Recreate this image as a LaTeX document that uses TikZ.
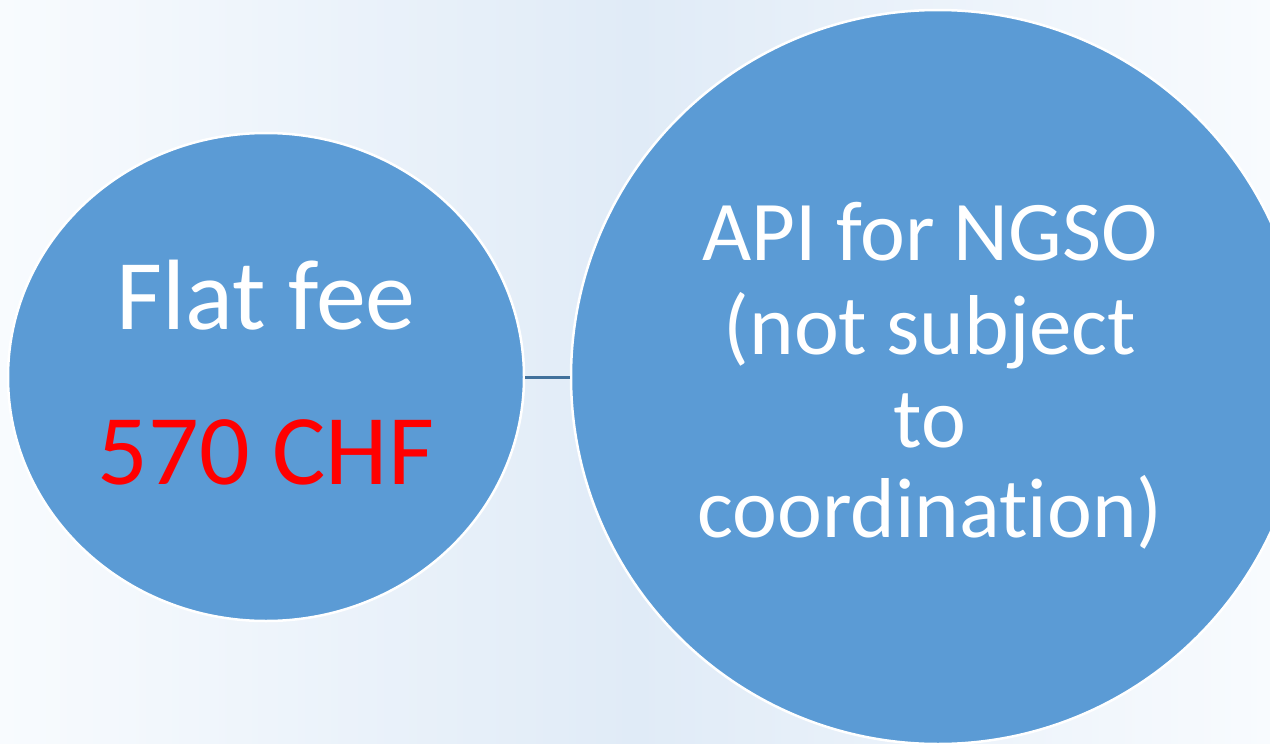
\documentclass[tikz,border=0pt]{standalone}
\usepackage{fontspec}
\setmainfont{Carlito}[Ligatures=NoCommon]
\usetikzlibrary{shapes.geometric}
\definecolor{bgpale}{HTML}{F8FBFE}
\definecolor{bgmid}{HTML}{E0EBF7}
\definecolor{bubblefill}{HTML}{5B9BD5}
\definecolor{linkblue}{HTML}{41719C}
\tikzset{
  bubble/.style={fill=bubblefill, draw=white, line width=2.5pt},
  link/.style={draw=linkblue, line width=3pt},
  feetext/.style={text=white, anchor=base, inner sep=0pt, font=\fontsize{100}{120}\selectfont},
  apitext/.style={text=white, anchor=base, inner sep=0pt, font=\fontsize{85}{102}\selectfont}
}
\begin{document}
\begin{tikzpicture}[x=1pt, y=-1pt]
\useasboundingbox (0,0) rectangle (1270,744);
\clip (0,0) rectangle (1270,744);
\shade[left color=bgpale, right color=bgpale, middle color=bgmid] (0,0) rectangle (1270,744);

% the two bubbles
\node[bubble, ellipse, minimum width=516pt, minimum height=488pt] (fee) at (266,377) {};
\node[bubble, circle, minimum size=734pt] (api) at (938,377) {};
\draw[link] (fee.east) -- (api.west);

% texts
\node[feetext] (flat) at (266,329) {Flat fee};
\node[feetext, text=red] (price) at (266,484) {570 CHF};

\node[apitext] (api1) at (930,260) {API for NGSO};
\node[apitext] (api2) at (930,354) {(not subject};
\node[apitext] (api3) at (930,447) {to};
\node[apitext] (api4) at (930,537) {coordination)};
\end{tikzpicture}
\end{document}
